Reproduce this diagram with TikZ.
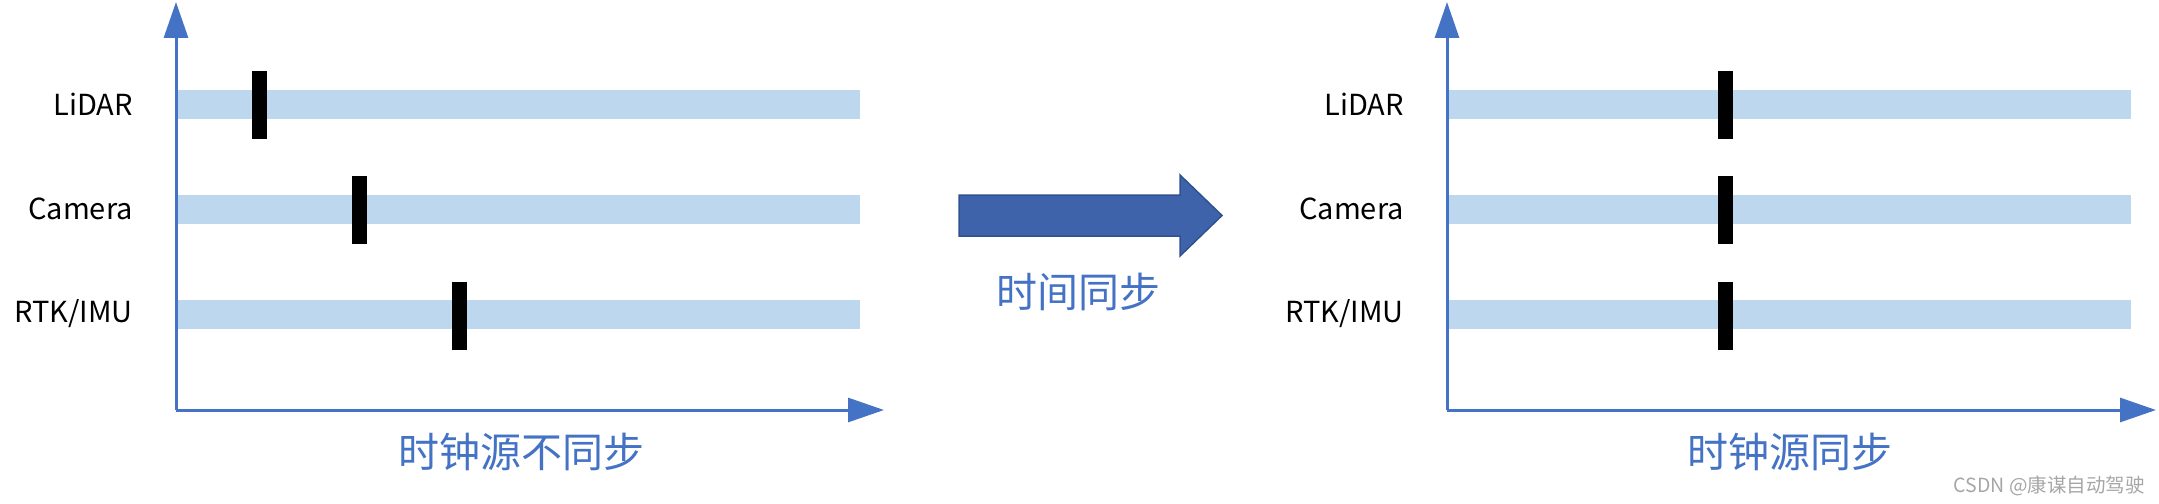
\documentclass[tikz,border=0pt]{standalone}
\usepackage{fontspec}
\newfontfamily\cjk{Noto Sans CJK SC}
\usetikzlibrary{arrows.meta}
\definecolor{axisblue}{HTML}{4472C4}
\definecolor{bandblue}{HTML}{BDD7EE}
\definecolor{bigarrow}{HTML}{3F63AB}
\definecolor{bigarrowline}{HTML}{2F528F}
\definecolor{wm}{HTML}{A6A6A6}
\tikzset{
  axis/.style={draw=axisblue, line width=3pt, -{Triangle[width=24pt,length=36pt]}},
  band/.style={fill=bandblue, draw=none},
  tickmark/.style={fill=black, draw=none, rectangle, inner sep=0pt, minimum width=15pt, minimum height=68pt},
  sensor/.style={anchor=east, inner sep=0pt, font=\cjk\fontsize{29pt}{29pt}\selectfont},
  caption/.style={inner sep=0pt, text=axisblue, font=\cjk\fontsize{41pt}{41pt}\selectfont},
}
\begin{document}
\begin{tikzpicture}[x=1pt,y=-1pt]
\useasboundingbox (0,0) rectangle (2159,503);
% ---------- left panel ----------
\coordinate (Lo) at (176,410);
\coordinate (Ly) at (176,2);
\coordinate (Lx) at (884,410);
\fill[band] (176,90) rectangle (860,119);
\fill[band] (176,195) rectangle (860,224);
\fill[band] (176,300) rectangle (860,329);
\draw[axis] (Lo) -- (Ly);
\draw[axis] (Lo) -- (Lx);
\node[tickmark] (Lt1) at (259.5,105) {};
\node[tickmark] (Lt2) at (359,210) {};
\node[tickmark] (Lt3) at (459.5,316) {};
\node[sensor] (Ll1) at (133,104) {LiDAR};
\node[sensor] (Ll2) at (133,209) {Camera};
\node[sensor] (Ll3) at (133,314) {RTK/IMU};
\node[caption] (Lc) at (521,452) {时钟源不同步};
% ---------- middle arrow ----------
\draw[fill=bigarrow, draw=bigarrowline, line width=1.5pt, line join=miter]
  (959,195) -- (1180,195) -- (1180,175) -- (1222,215.5) -- (1180,256) -- (1180,236) -- (959,236) -- cycle;
\node[caption] (Mc) at (1078,292) {时间同步};
% ---------- right panel ----------
\coordinate (Ro) at (1447,410);
\coordinate (Ry) at (1447,2);
\coordinate (Rx) at (2156,410);
\fill[band] (1447,90) rectangle (2131,119);
\fill[band] (1447,195) rectangle (2131,224);
\fill[band] (1447,300) rectangle (2131,329);
\draw[axis] (Ro) -- (Ry);
\draw[axis] (Ro) -- (Rx);
\node[tickmark] (Rt1) at (1725,105) {};
\node[tickmark] (Rt2) at (1725,210) {};
\node[tickmark] (Rt3) at (1725,316) {};
\node[sensor] (Rl1) at (1404,104) {LiDAR};
\node[sensor] (Rl2) at (1404,209) {Camera};
\node[sensor] (Rl3) at (1404,314) {RTK/IMU};
\node[caption] (Rc) at (1790,452) {时钟源同步};
% ---------- watermark ----------
\node[anchor=east, inner sep=0pt, text=wm, font=\cjk\fontsize{19.5pt}{19.5pt}\selectfont] (wm) at (2145,486) {CSDN @康谋自动驾驶};
\end{tikzpicture}
\end{document}
